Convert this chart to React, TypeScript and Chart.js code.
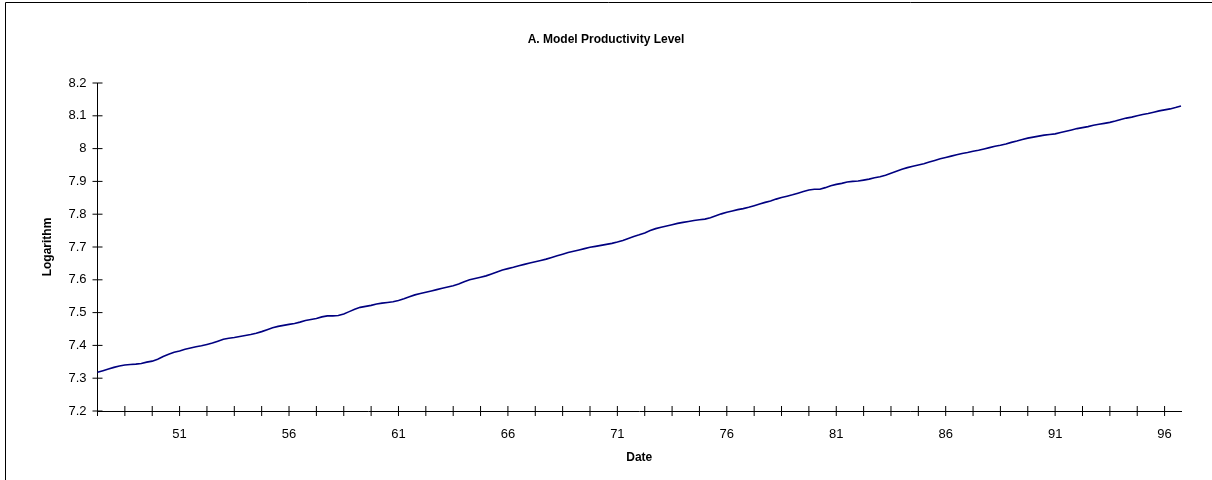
import React, { useEffect, useRef } from "react";
import { Chart, registerables } from "chart.js";

Chart.register(...registerables);

const CHART_TITLE = "A. Model Productivity Level";
const Y_TITLE = "Logarithm";
const X_TITLE = "Date";

// quarterly observations, 1947Q2 .. 1996Q4
const START_YEAR = 1947;
const START_QUARTER = 2;

const productivity: number[] = [
  7.318, 7.323, 7.328, 7.333, 7.337, 7.340, 7.342, 7.343, 7.345, 7.349,
  7.352, 7.358, 7.366, 7.373, 7.379, 7.383, 7.388, 7.392, 7.396, 7.399,
  7.403, 7.407, 7.413, 7.419, 7.422, 7.424, 7.427, 7.430, 7.433, 7.437,
  7.442, 7.448, 7.454, 7.458, 7.461, 7.464, 7.467, 7.471, 7.476, 7.479,
  7.482, 7.487, 7.490, 7.490, 7.491, 7.496, 7.503, 7.510, 7.516, 7.519,
  7.522, 7.526, 7.529, 7.531, 7.533, 7.537, 7.542, 7.548, 7.554, 7.558,
  7.562, 7.566, 7.570, 7.574, 7.578, 7.582, 7.587, 7.594, 7.600, 7.604,
  7.608, 7.612, 7.618, 7.624, 7.630, 7.634, 7.638, 7.643, 7.647, 7.651,
  7.655, 7.659, 7.663, 7.668, 7.673, 7.678, 7.683, 7.687, 7.691, 7.695,
  7.699, 7.702, 7.705, 7.708, 7.711, 7.715, 7.720, 7.726, 7.732, 7.737,
  7.743, 7.750, 7.756, 7.760, 7.764, 7.768, 7.772, 7.775, 7.778, 7.781,
  7.783, 7.785, 7.789, 7.795, 7.801, 7.806, 7.810, 7.814, 7.817, 7.821,
  7.826, 7.831, 7.836, 7.840, 7.846, 7.851, 7.855, 7.859, 7.864, 7.869,
  7.874, 7.876, 7.876, 7.881, 7.887, 7.891, 7.894, 7.898, 7.900, 7.901,
  7.904, 7.907, 7.911, 7.914, 7.919, 7.925, 7.931, 7.937, 7.942, 7.946,
  7.950, 7.954, 7.959, 7.964, 7.969, 7.973, 7.977, 7.981, 7.985, 7.988,
  7.992, 7.995, 7.999, 8.003, 8.007, 8.010, 8.014, 8.019, 8.023, 8.028,
  8.032, 8.035, 8.038, 8.041, 8.043, 8.045, 8.049, 8.053, 8.057, 8.061,
  8.064, 8.067, 8.071, 8.074, 8.077, 8.080, 8.084, 8.089, 8.093, 8.096,
  8.100, 8.104, 8.107, 8.111, 8.115, 8.118, 8.121, 8.125, 8.130,
];

const dates: string[] = productivity.map((_, i) => {
  const q = START_QUARTER - 1 + i;
  return `${START_YEAR + Math.floor(q / 4)}Q${(q % 4) + 1}`;
});

const xTickLabels = ["51", "56", "61", "66", "71", "76", "81", "86", "91", "96"];
const Y_MIN = 7.2;
const Y_MAX = 8.2;
const Y_STEP = 0.1;
const X_TICK_EVERY = 5;

const FONT = "'Liberation Sans', Arial, Helvetica, sans-serif";

const decorPlugin = {
  id: "decor",
  afterDraw(chart: any) {
    const { ctx, chartArea, scales } = chart;
    const xs = scales.x;
    const ys = scales.y;
    ctx.save();
    // outer frame (top & left)
    ctx.strokeStyle = "#000000";
    ctx.lineWidth = 1;
    ctx.beginPath();
    ctx.moveTo(5.5, chart.height);
    ctx.lineTo(5.5, 2.5);
    ctx.lineTo(chart.width, 2.5);
    ctx.stroke();
    // crossing tick marks
    ctx.beginPath();
    ys.ticks.forEach((t: any) => {
      const y = ys.getPixelForValue(t.value);
      ctx.moveTo(chartArea.left - 5, y);
      ctx.lineTo(chartArea.left + 5, y);
    });
    for (let i = 0; i < dates.length; i += X_TICK_EVERY) {
      const x = xs.getPixelForValue(i);
      ctx.moveTo(x, chartArea.bottom - 5);
      ctx.lineTo(x, chartArea.bottom + 5);
    }
    ctx.stroke();
    // title
    ctx.fillStyle = "#000000";
    ctx.font = `bold 12px ${FONT}`;
    ctx.textAlign = "center";
    ctx.textBaseline = "middle";
    ctx.fillText(CHART_TITLE, chart.width / 2, 40);
    ctx.restore();
  },
};

export default function App() {
  const canvasRef = useRef<HTMLCanvasElement | null>(null);

  useEffect(() => {
    if (!canvasRef.current) return;
    const chart = new Chart(canvasRef.current, {
      type: "line",
      data: {
        labels: dates,
        datasets: [
          {
            data: productivity,
            borderColor: "#000080",
            borderWidth: 1.6,
            pointRadius: 0,
            tension: 0,
            fill: false,
          },
        ],
      },
      options: {
        animation: false,
        responsive: true,
        maintainAspectRatio: false,
        layout: { padding: { left: 0, top: 83, right: 31, bottom: 0 } },
        plugins: {
          legend: { display: false },
          title: { display: false },
          tooltip: { enabled: false },
        },
        scales: {
          x: {
            type: "category",
            offset: false,
            grid: { display: false, drawTicks: false },
            border: { display: true, color: "#000000", width: 1 },
            afterFit: (s: any) => {
              s.height = 69;
            },
            ticks: {
              autoSkip: false,
              maxRotation: 0,
              minRotation: 0,
              padding: 16,
              color: "#000000",
              font: { family: FONT, size: 13 },
              callback: (_v: any, i: number) => {
                const d = dates[i];
                if (!d || !d.endsWith("Q1")) return "";
                const yy = d.slice(2, 4);
                return xTickLabels.includes(yy) ? yy : "";
              },
            },
            title: {
              display: true,
              text: X_TITLE,
              color: "#000000",
              font: { family: FONT, size: 12, weight: "bold" },
              padding: { top: 0, bottom: 15 },
            },
          },
          y: {
            type: "linear",
            min: Y_MIN,
            max: Y_MAX,
            grid: { display: false, drawTicks: false },
            border: { display: true, color: "#000000", width: 1 },
            afterFit: (s: any) => {
              s.width = 97.5;
            },
            ticks: {
              stepSize: Y_STEP,
              padding: 11,
              color: "#000000",
              font: { family: FONT, size: 13 },
              callback: (v: any) => String(Math.round(Number(v) * 10) / 10),
            },
            title: {
              display: true,
              text: Y_TITLE,
              color: "#000000",
              font: { family: FONT, size: 12, weight: "bold" },
              padding: { top: 40, bottom: 0 },
            },
          },
        },
      },
      plugins: [decorPlugin],
    });
    return () => chart.destroy();
  }, []);

  return (
    <div
      style={{
        position: "fixed",
        left: 0,
        top: 0,
        width: 1212,
        height: 480,
        background: "#ffffff",
      }}
    >
      <canvas ref={canvasRef} />
    </div>
  );
}
